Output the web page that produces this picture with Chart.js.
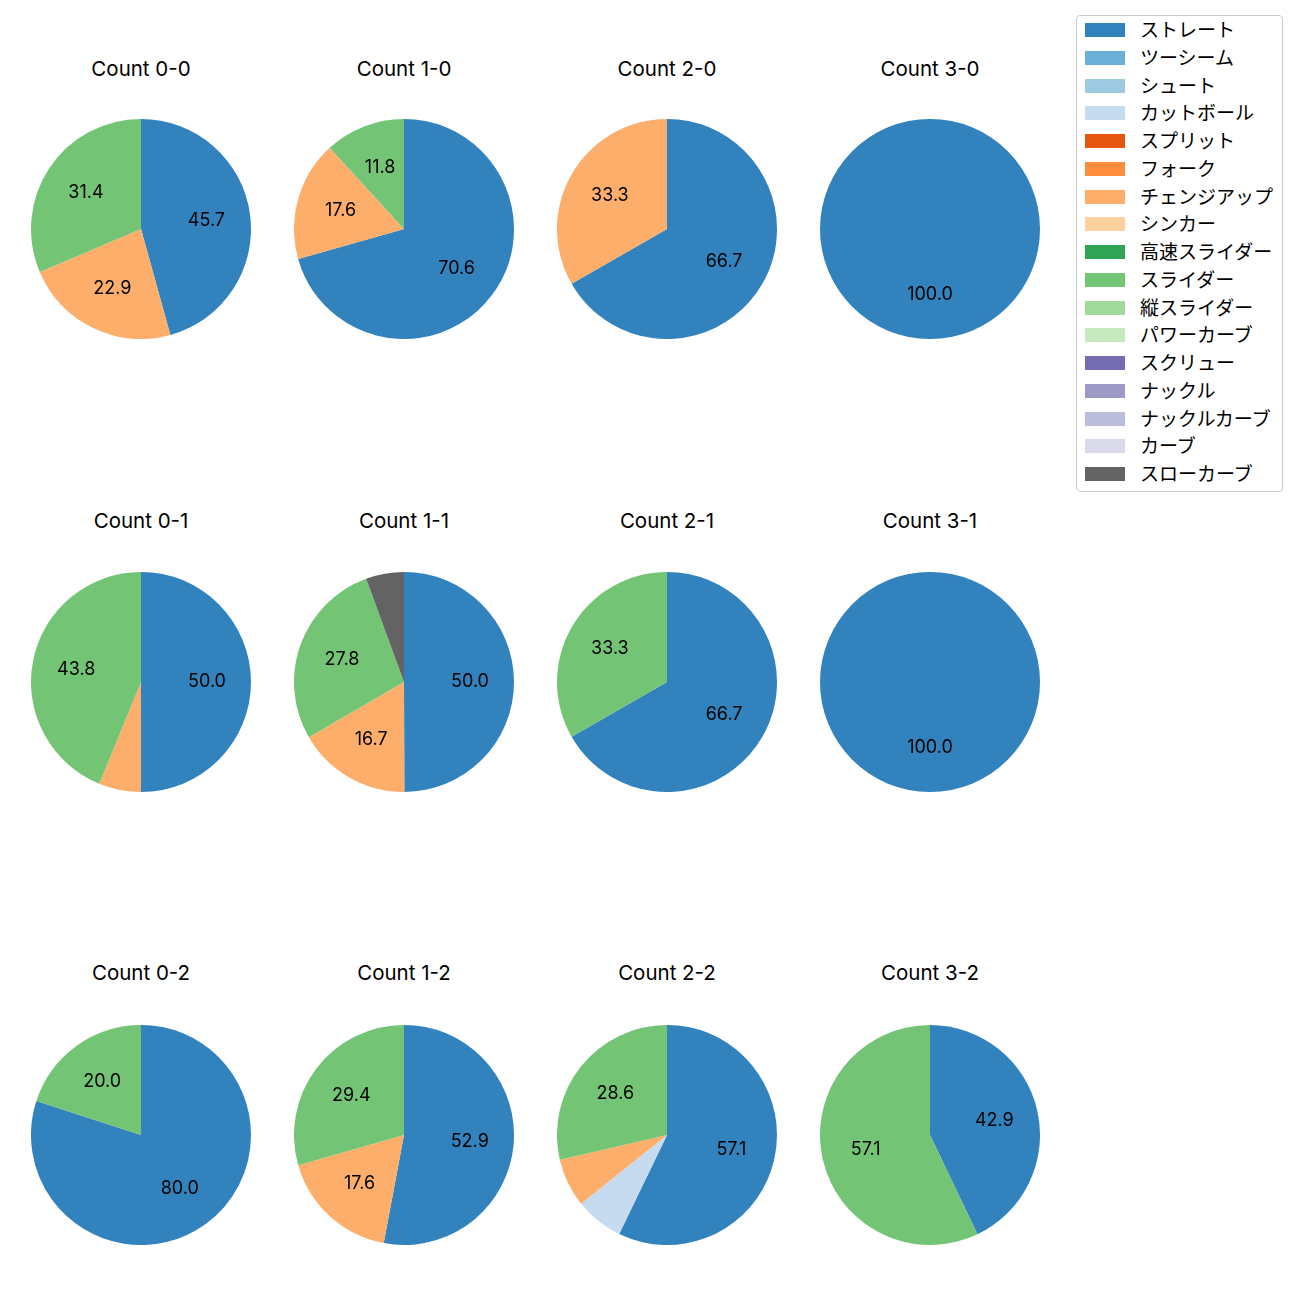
<!DOCTYPE html>
<html><head><meta charset="utf-8">
<script src="https://cdn.jsdelivr.net/npm/chart.js@4"></script>
<style>
html,body{margin:0;padding:0;background:#fff;}
#wrap{position:relative;width:1300px;height:1300px;font-family:"Noto Sans CJK JP","Noto Sans",sans-serif;}
.title{position:absolute;width:240px;text-align:center;font-family:Inter,"Noto Sans",sans-serif;font-size:20.5px;color:#000;line-height:24px;}
.pie{position:absolute;}
#legend{position:absolute;left:1076px;top:15px;width:207px;height:477px;border:1px solid #ccc;border-radius:4px;box-sizing:border-box;}
.item{position:absolute;left:8px;height:20px;font-size:19px;line-height:20px;color:#000;white-space:nowrap;}
.sw{position:absolute;left:0;top:3px;width:40px;height:14px;}
.lt{position:absolute;left:55px;top:-1px;}
</style></head>
<body><div id="wrap"><div id="legend"></div></div>
<script>
const pitchTypes = ["ストレート","ツーシーム","シュート","カットボール","スプリット","フォーク","チェンジアップ","シンカー","高速スライダー","スライダー","縦スライダー","パワーカーブ","スクリュー","ナックル","ナックルカーブ","カーブ","スローカーブ"];
const pitchColors = ["#3182bd","#6baed6","#9ecae1","#c6dbef","#e6550d","#fd8d3c","#fdae6b","#fdd0a2","#31a354","#74c476","#a1d99b","#c7e9c0","#756bb1","#9e9ac8","#bcbddc","#dadaeb","#636363"];
const countTitles = ["Count 0-0","Count 1-0","Count 2-0","Count 3-0","Count 0-1","Count 1-1","Count 2-1","Count 3-1","Count 0-2","Count 1-2","Count 2-2","Count 3-2"];
// percentages per count (only nonzero pitch types listed by name)
const count00 = {"ストレート":45.7,"チェンジアップ":22.9,"スライダー":31.4};
const count10 = {"ストレート":70.6,"チェンジアップ":17.6,"スライダー":11.8};
const count20 = {"ストレート":66.7,"チェンジアップ":33.3};
const count30 = {"ストレート":100.0};
const count01 = {"ストレート":50.0,"チェンジアップ":6.2,"スライダー":43.8};
const count11 = {"ストレート":50.0,"チェンジアップ":16.7,"スライダー":27.8,"スローカーブ":5.6};
const count21 = {"ストレート":66.7,"スライダー":33.3};
const count31 = {"ストレート":100.0};
const count02 = {"ストレート":80.0,"スライダー":20.0};
const count12 = {"ストレート":52.9,"チェンジアップ":17.6,"スライダー":29.4};
const count22 = {"ストレート":57.1,"カットボール":7.1,"チェンジアップ":7.1,"スライダー":28.6};
const count32 = {"ストレート":42.9,"スライダー":57.1};
const countData = [count00,count10,count20,count30,count01,count11,count21,count31,count02,count12,count22,count32];

const colCenters = [141,404,667,930];
const rowCenters = [229,682,1135];
const titleY = [69,521,973];
const R = 110;
const wrap = document.getElementById('wrap');

const pctLabels = {
  id:'pctLabels',
  afterDatasetsDraw(chart){
    const ctx = chart.ctx;
    const meta = chart.getDatasetMeta(0);
    const data = chart.data.datasets[0].data;
    ctx.save();
    ctx.font = '18px Inter,"Noto Sans",sans-serif';
    ctx.fillStyle = '#000';
    ctx.textAlign = 'center';
    ctx.textBaseline = 'middle';
    meta.data.forEach((arc,i)=>{
      const v = data[i];
      if (!v || v < 10) return;
      const p = arc.getProps(['x','y','startAngle','endAngle','outerRadius'],true);
      const a = (p.startAngle + p.endAngle)/2;
      const r = p.outerRadius*0.6;
      ctx.fillText(v.toFixed(1), p.x + Math.cos(a)*r, p.y + Math.sin(a)*r);
    });
    ctx.restore();
  }
};

countData.forEach((d,idx)=>{
  const col = idx%4, row = Math.floor(idx/4);
  const cx = colCenters[col], cy = rowCenters[row];
  const t = document.createElement('div');
  t.className='title'; t.textContent = countTitles[idx];
  t.style.left = (cx-120)+'px'; t.style.top = (titleY[row]-12)+'px';
  wrap.appendChild(t);
  const c = document.createElement('canvas');
  c.className='pie';
  c.width = 2*R; c.height = 2*R;
  c.style.left=(cx-R)+'px'; c.style.top=(cy-R)+'px';
  c.style.width = 2*R+'px'; c.style.height = 2*R+'px';
  wrap.appendChild(c);
  const labels=[], vals=[], cols=[];
  pitchTypes.forEach((p,i)=>{ if (d[p]) { labels.push(p); vals.push(d[p]); cols.push(pitchColors[i]); } });
  new Chart(c,{
    type:'pie',
    data:{labels:labels,datasets:[{data:vals,backgroundColor:cols,borderWidth:0}]},
    options:{responsive:false,animation:false,layout:{padding:0},
      plugins:{legend:{display:false},tooltip:{enabled:false}}},
    plugins:[pctLabels]
  });
});

const leg = document.getElementById('legend');
pitchTypes.forEach((p,i)=>{
  const it = document.createElement('div');
  it.className='item';
  it.style.top = (29-15-10 + i*27.75)+'px';
  it.innerHTML = '<div class="sw" style="background:'+pitchColors[i]+'"></div><div class="lt">'+p+'</div>';
  leg.appendChild(it);
});
</script></body></html>
